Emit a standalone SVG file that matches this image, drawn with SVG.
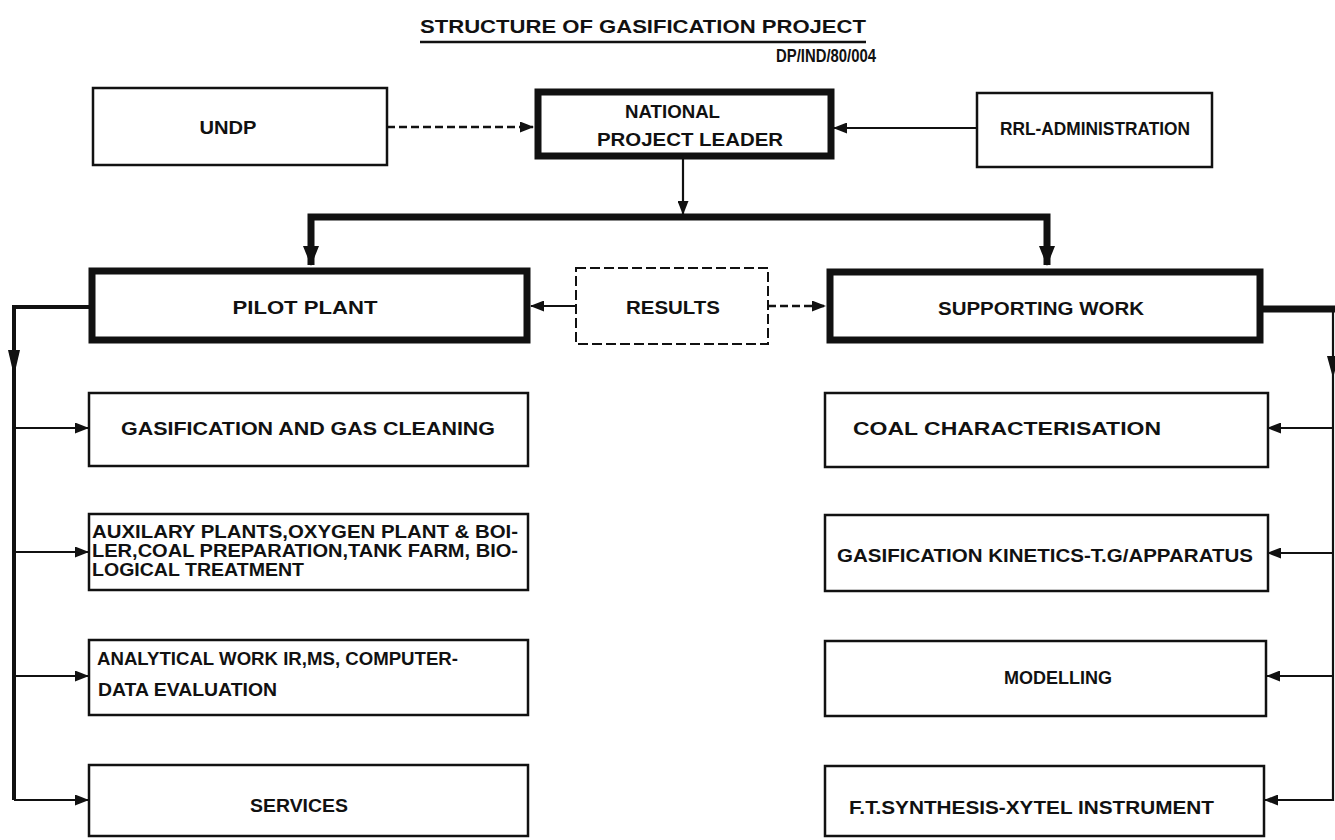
<svg xmlns="http://www.w3.org/2000/svg" width="1335" height="840" viewBox="0 0 1335 840">
<style>
.box{fill:#fff;stroke:#111;stroke-width:2.5}
.thick{fill:#fff;stroke:#111;stroke-width:7}
.dbox{fill:#fff;stroke:#111;stroke-width:2;stroke-dasharray:10 4}
.t{font-family:"Liberation Sans","DejaVu Sans",sans-serif;font-weight:bold;font-size:18px;fill:#111}
.ln{fill:none;stroke:#111;stroke-width:2.2}
.dl{fill:none;stroke:#111;stroke-width:2.5;stroke-dasharray:8 4}
.tk{fill:none;stroke:#111;stroke-width:7}
.md{fill:none;stroke:#111;stroke-width:4}
</style>
<defs>
<marker id="ah" markerWidth="14" markerHeight="11" refX="13" refY="5.5" orient="auto" markerUnits="userSpaceOnUse">
<path d="M0,0 L14,5.5 L0,11 Z" fill="#111"/>
</marker>
<marker id="ahb" markerWidth="20" markerHeight="16" refX="19" refY="8" orient="auto" markerUnits="userSpaceOnUse">
<path d="M0,0 L20,8 L0,16 Z" fill="#111"/>
</marker>
</defs>
<g id="title">
<text class="t" x="420" y="33" font-size="25" textLength="446" lengthAdjust="spacingAndGlyphs">STRUCTURE OF GASIFICATION PROJECT</text>
<line x1="420" y1="42" x2="866" y2="42" stroke="#111" stroke-width="2.5"/>
<text class="t" x="776" y="62" font-size="16" textLength="100" lengthAdjust="spacingAndGlyphs">DP/IND/80/004</text>
</g>
<g id="connectors">
<line class="dl" x1="387" y1="127" x2="533" y2="127" marker-end="url(#ah)"/>
<line class="ln" x1="977" y1="128" x2="834" y2="128" marker-end="url(#ah)"/>
<line class="ln" x1="683" y1="158" x2="683" y2="214" marker-end="url(#ah)"/>
<path class="tk" d="M683,217 H311 V265" marker-end="url(#ahb)"/>
<path class="tk" d="M683,217 H1047 V265" marker-end="url(#ahb)"/>
<line class="ln" x1="576" y1="306" x2="531" y2="306" marker-end="url(#ah)"/>
<line class="dl" x1="768" y1="306" x2="825" y2="306" marker-end="url(#ah)"/>
<path class="md" d="M89,307 H14 V800"/>
<path d="M8,350 L20,350 L14,376 Z" fill="#111"/>
<line class="ln" x1="14" y1="428" x2="88" y2="428" marker-end="url(#ah)"/>
<line class="ln" x1="14" y1="552" x2="88" y2="552" marker-end="url(#ah)"/>
<line class="ln" x1="14" y1="676" x2="88" y2="676" marker-end="url(#ah)"/>
<line class="ln" x1="14" y1="800" x2="88" y2="800" marker-end="url(#ah)"/>
<line class="tk" x1="1263" y1="309" x2="1335" y2="309"/>
<line class="ln" x1="1333" y1="309" x2="1333" y2="801"/>
<path d="M1327,356 L1339,356 L1333,378 Z" fill="#111"/>
<line class="ln" x1="1333" y1="428" x2="1268" y2="428" marker-end="url(#ah)"/>
<line class="ln" x1="1333" y1="553" x2="1268" y2="553" marker-end="url(#ah)"/>
<line class="ln" x1="1333" y1="676" x2="1267" y2="676" marker-end="url(#ah)"/>
<line class="ln" x1="1333" y1="800" x2="1265" y2="800" marker-end="url(#ah)"/>
</g>
<g id="undp">
<rect class="box" x="93" y="88" width="294" height="77"/>
<text class="t" x="228" y="134" text-anchor="middle" textLength="57" lengthAdjust="spacingAndGlyphs">UNDP</text>
</g>
<g id="npl">
<rect class="thick" x="538" y="92" width="293" height="64"/>
<text class="t" x="625" y="118" textLength="95" lengthAdjust="spacingAndGlyphs">NATIONAL</text>
<text class="t" x="597" y="146" textLength="186" lengthAdjust="spacingAndGlyphs">PROJECT LEADER</text>
</g>
<g id="rrl">
<rect class="box" x="977" y="93" width="235" height="74"/>
<text class="t" x="1095" y="135" text-anchor="middle" textLength="190" lengthAdjust="spacingAndGlyphs">RRL-ADMINISTRATION</text>
</g>
<g id="pilot">
<rect class="thick" x="92" y="271" width="435" height="69"/>
<text class="t" x="305" y="314" text-anchor="middle" textLength="145" lengthAdjust="spacingAndGlyphs">PILOT PLANT</text>
</g>
<g id="results">
<rect class="dbox" x="576" y="268" width="192" height="76"/>
<text class="t" x="673" y="314" text-anchor="middle" textLength="94" lengthAdjust="spacingAndGlyphs">RESULTS</text>
</g>
<g id="supporting">
<rect class="thick" x="830" y="272" width="430" height="68"/>
<text class="t" x="1041" y="315" text-anchor="middle" textLength="206" lengthAdjust="spacingAndGlyphs">SUPPORTING WORK</text>
</g>
<g id="gas-cleaning">
<rect class="box" x="89" y="393" width="439" height="73"/>
<text class="t" x="121" y="435" textLength="374" lengthAdjust="spacingAndGlyphs">GASIFICATION AND GAS CLEANING</text>
</g>
<g id="auxilary">
<rect class="box" x="89" y="514" width="439" height="76"/>
<text class="t" x="92" y="538" textLength="426" lengthAdjust="spacingAndGlyphs">AUXILARY PLANTS,OXYGEN PLANT &amp; BOI-</text>
<text class="t" x="92" y="557" textLength="426" lengthAdjust="spacingAndGlyphs">LER,COAL PREPARATION,TANK FARM, BIO-</text>
<text class="t" x="92" y="576" textLength="212" lengthAdjust="spacingAndGlyphs">LOGICAL TREATMENT</text>
</g>
<g id="analytical">
<rect class="box" x="89" y="640" width="439" height="75"/>
<text class="t" x="97" y="665" textLength="361" lengthAdjust="spacingAndGlyphs">ANALYTICAL WORK IR,MS, COMPUTER-</text>
<text class="t" x="98" y="696" textLength="179" lengthAdjust="spacingAndGlyphs">DATA EVALUATION</text>
</g>
<g id="services">
<rect class="box" x="89" y="765" width="439" height="71"/>
<text class="t" x="299" y="812" text-anchor="middle" font-size="19" textLength="98" lengthAdjust="spacingAndGlyphs">SERVICES</text>
</g>
<g id="coal">
<rect class="box" x="825" y="393" width="443" height="74"/>
<text class="t" x="853" y="435" textLength="308" lengthAdjust="spacingAndGlyphs">COAL CHARACTERISATION</text>
</g>
<g id="kinetics">
<rect class="box" x="825" y="515" width="443" height="76"/>
<text class="t" x="837" y="562" font-size="19" textLength="416" lengthAdjust="spacingAndGlyphs">GASIFICATION KINETICS-T.G/APPARATUS</text>
</g>
<g id="modelling">
<rect class="box" x="825" y="641" width="441" height="75"/>
<text class="t" x="1058" y="684" text-anchor="middle" textLength="108" lengthAdjust="spacingAndGlyphs">MODELLING</text>
</g>
<g id="ft">
<rect class="box" x="825" y="766" width="439" height="70"/>
<text class="t" x="849" y="814" font-size="19" textLength="365" lengthAdjust="spacingAndGlyphs">F.T.SYNTHESIS-XYTEL INSTRUMENT</text>
</g>
</svg>
